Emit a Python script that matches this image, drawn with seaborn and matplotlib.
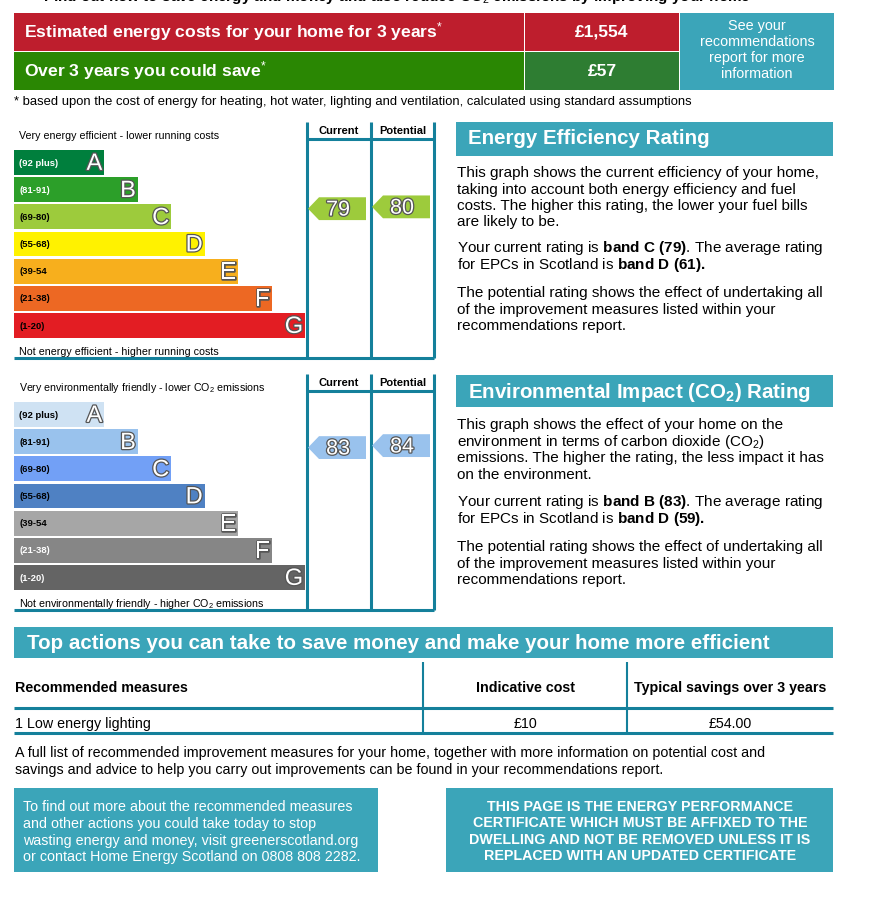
import matplotlib
matplotlib.use("Agg")
import matplotlib.pyplot as plt
import matplotlib.patheffects as pe
from matplotlib.patches import Rectangle, Polygon
from matplotlib.transforms import blended_transform_factory
import seaborn as sns
import pandas as pd

# ---------------- data ----------------
bands = ["A", "B", "C", "D", "E", "F", "G"]
band_ranges = ["(92 plus)", "(81-91)", "(69-80)", "(55-68)", "(39-54", "(21-38)", "(1-20)"]
band_lo = [92, 81, 69, 55, 39, 21, 1]
band_hi = [100, 91, 80, 68, 54, 38, 20]
band_len = [27, 37, 47, 57, 67, 77, 87]
ee_colors = ["#007f3d", "#2c9f29", "#9dcb3c", "#fff200", "#f7af1d", "#ed6823", "#e31d23"]
ei_colors = ["#cfe2f3", "#99c2ed", "#72a0f6", "#4f81c3", "#a6a6a6", "#868686", "#646464"]
ee_label_white = [True, True, False, False, False, False, False]
ei_label_white = [False, False, False, False, False, True, True]
ee_current, ee_potential = 79, 80
ei_current, ei_potential = 83, 84

cost_3yrs = "£1,554"
save_3yrs = "£57"
measures = ["1 Low energy lighting"]
measure_cost = ["£10"]
measure_saving = ["£54.00"]

# ---------------- setup ----------------
sns.set_theme(style="white")
plt.rcParams["font.family"] = ["Liberation Sans", "DejaVu Sans"]
plt.rcParams["mathtext.fontset"] = "custom"
plt.rcParams["mathtext.rm"] = "Liberation Sans"
plt.rcParams["mathtext.it"] = "Liberation Sans:italic"
plt.rcParams["mathtext.bf"] = "Liberation Sans:bold"

W, H = 878, 905
fig = plt.figure(figsize=(W / 100, H / 100), dpi=100)
fig.patch.set_facecolor("white")
ov = fig.add_axes([0, 0, 1, 1])
ov.set_xlim(0, W)
ov.set_ylim(H, 0)
ov.set_axis_off()

RED = "#be1e2d"
GREEN = "#2a8703"
GREEN2 = "#2e7d32"
TEAL = "#3ba5b9"
LINE = "#14809b"
NARROW = ["Liberation Sans Narrow", "Liberation Sans"]


def rect(x0, y0, x1, y1, color, z=1):
    ov.add_patch(Rectangle((x0, y0), x1 - x0, y1 - y0, facecolor=color, edgecolor="none", zorder=z))


def line(x0, y0, x1, y1, lw=2, color=LINE):
    ov.plot([x0, x1], [y0, y1], color=color, lw=lw, solid_capstyle="butt", zorder=3)


def txt(x, y, s, size, **kw):
    kw.setdefault("va", "center")
    kw.setdefault("ha", "left")
    kw.setdefault("color", "black")
    if kw["va"] == "center":
        y = y + 1
    ov.text(x, y, s, fontsize=size, zorder=5, **kw)


# ---------------- top (cut) heading ----------------
txt(30, 0.5, "•  Find out how to save energy and money and also reduce CO$_2$ emissions by improving your home",
    11, fontweight="bold", va="baseline")

# ---------------- cost boxes ----------------
rect(14, 13, 524, 51, RED)
rect(525, 13, 679, 51, RED)
rect(14, 52, 524, 90, GREEN)
rect(525, 52, 679, 90, GREEN2)
rect(680, 13, 834, 90, TEAL)
txt(24, 31, "Estimated energy costs for your home for 3 years$^{*}$", 12.6, fontweight="bold", color="white")
txt(24, 70, "Over 3 years you could save$^{*}$", 12.6, fontweight="bold", color="white")
txt(602, 31, cost_3yrs, 12.6, fontweight="bold", color="white", ha="center")
txt(602, 70, save_3yrs, 12.6, fontweight="bold", color="white", ha="center")
for yy, s in zip([25, 41, 57, 73], ["See your", "recommendations", "report for more", "information"]):
    txt(757, yy, s, 10.4, color="white", ha="center")
txt(14, 101, "* based upon the cost of energy for heating, hot water, lighting and ventilation, calculated using standard assumptions",
    9.4)


# ---------------- rating charts ----------------
def rating_chart(top_off, colors, white_flags, cur, pot, top_text, bottom_text):
    # frame
    y_top = 122 + top_off
    y_hdr = 139 + top_off
    y_bot = 358 + top_off
    for xx in (307, 371, 434):
        line(xx, y_top, xx, y_bot, lw=2.2)
    line(307, y_hdr, 434, y_hdr, lw=2.2)
    line(14, y_bot, 434, y_bot, lw=2.2)
    txt(339, 130 + top_off, "Current", 8, fontweight="bold", ha="center")
    txt(402.5, 130 + top_off, "Potential", 8, fontweight="bold", ha="center")
    txt(19, 135 + top_off, top_text, 7.7)
    txt(19, 351 + top_off, bottom_text, 7.7)

    # bands via seaborn
    ax_top = 148.9 + top_off
    ax_h = 190.2
    ax = fig.add_axes([14 / W, 1 - (ax_top + ax_h) / H, 420 / W, ax_h / H])
    df = pd.DataFrame({"band": bands, "len": band_len})
    sns.barplot(data=df, x="len", y="band", hue="band", palette=colors, orient="h",
                width=0.92, saturation=1, legend=False, ax=ax, linewidth=0)
    ax.set_xlim(0, 87 * 420 / 291)
    ax.set_ylim(6.5, -0.5)
    ax.set_axis_off()
    for i, (b, r, L) in enumerate(zip(bands, band_ranges, band_len)):
        ax.text(1.5, i + 0.02, r, fontsize=6.8, fontweight="bold", va="center", ha="left",
                color="white" if white_flags[i] else "black")
        ax.text(L - 0.6, i + 0.05, b, fontsize=17, va="center", ha="right", color="white",
                path_effects=[pe.withStroke(linewidth=1.8, foreground="#555555")])

    # arrows
    tr = blended_transform_factory(ov.transData, ax.transData)

    def arrow(score, x_tip, x_notch, x_end):
        idx = next(i for i in range(7) if band_lo[i] <= score <= band_hi[i])
        n = band_hi[idx] - band_lo[idx] + 1
        yc = idx + 0.4 - 0.8 * (score - band_lo[idx] + 0.5) / n
        h = 0.42
        poly = Polygon([(x_tip, yc), (x_notch, yc - h), (x_end, yc - h), (x_end, yc + h), (x_notch, yc + h)],
                       closed=True, facecolor=colors[idx], edgecolor="none", transform=tr, clip_on=False)
        ax.add_patch(poly)
        ax.text((x_tip + x_end) / 2 + 1, yc + 0.05, str(score), transform=tr, fontsize=15.5, color="white",
                ha="center", va="center", clip_on=False,
                path_effects=[pe.withStroke(linewidth=1.8, foreground="#555555")])

    arrow(cur, 308, 319, 366)
    arrow(pot, 372, 383, 430)


rating_chart(0, ee_colors, ee_label_white, ee_current, ee_potential,
             "Very energy efficient - lower running costs", "Not energy efficient - higher running costs")
rating_chart(252, ei_colors, ei_label_white, ei_current, ei_potential,
             "Very environmentally friendly - lower CO$_2$ emissions",
             "Not environmentally friendly - higher CO$_2$ emissions")

# ---------------- right text ----------------
rect(456, 122, 833, 156, TEAL)
txt(468, 138, "Energy Efficiency Rating", 14.8, fontweight="bold", color="white")
ee_lines = [
    (172, "This graph shows the current efficiency of your home,"),
    (189, "taking into account both energy efficiency and fuel"),
    (205, "costs. The higher this rating, the lower your fuel bills"),
    (221, "are likely to be."),
    (247, r"Your current rating is $\mathbf{band\ C\ (79)}$. The average rating"),
    (264, r"for EPCs in Scotland is $\mathbf{band\ D\ (61).}$"),
    (292, "The potential rating shows the effect of undertaking all"),
    (309, "of the improvement measures listed within your"),
    (325, "recommendations report."),
]
for yy, s in ee_lines:
    txt(457, yy, s, 11)

rect(456, 375, 833, 407, TEAL)
txt(468, 391, r"Environmental Impact (CO$_\mathbf{2}$) Rating", 14.8, fontweight="bold", color="white")
ei_lines = [
    (424, "This graph shows the effect of your home on the"),
    (441, "environment in terms of carbon dioxide (CO$_2$)"),
    (457, "emissions. The higher the rating, the less impact it has"),
    (474, "on the environment."),
    (501, r"Your current rating is $\mathbf{band\ B\ (83)}$. The average rating"),
    (518, r"for EPCs in Scotland is $\mathbf{band\ D\ (59).}$"),
    (546, "The potential rating shows the effect of undertaking all"),
    (563, "of the improvement measures listed within your"),
    (579, "recommendations report."),
]
for yy, s in ei_lines:
    txt(457, yy, s, 11)

# ---------------- top actions ----------------
rect(14, 627, 833, 658, TEAL)
txt(27, 642, "Top actions you can take to save money and make your home more efficient", 14.8,
    fontweight="bold", color="white", family=NARROW)
line(423, 662, 423, 733, lw=1.5)
line(627, 662, 627, 733, lw=1.5)
line(14, 708, 833, 708, lw=2.2)
line(14, 733, 833, 733, lw=2.2)
txt(15, 687, "Recommended measures", 10.3, fontweight="bold", family=NARROW)
txt(526, 687, "Indicative cost", 10.3, fontweight="bold", family=NARROW, ha="center")
txt(730, 687, "Typical savings over 3 years", 10.3, fontweight="bold", family=NARROW, ha="center")
for k, (m, c, s) in enumerate(zip(measures, measure_cost, measure_saving)):
    yy = 723 + 25 * k
    txt(15, yy, m, 10.3, family=NARROW)
    txt(526, yy, c, 10.3, family=NARROW, ha="center")
    txt(730, yy, s, 10.3, family=NARROW, ha="center")
txt(15, 752, "A full list of recommended improvement measures for your home, together with more information on potential cost and",
    10.3, family=NARROW)
txt(15, 769, "savings and advice to help you carry out improvements can be found in your recommendations report.",
    10.3, family=NARROW)

# ---------------- bottom boxes ----------------
rect(14, 788, 378, 872, TEAL)
rect(446, 788, 833, 872, TEAL)
left_lines = ["To find out more about the recommended measures",
              "and other actions you could take today to stop",
              "wasting energy and money, visit greenerscotland.org",
              "or contact Home Energy Scotland on 0808 808 2282."]
for yy, s in zip([806, 823, 840, 856], left_lines):
    txt(23, yy, s, 10.3, color="white", family=NARROW)
right_lines = ["THIS PAGE IS THE ENERGY PERFORMANCE",
               "CERTIFICATE WHICH MUST BE AFFIXED TO THE",
               "DWELLING AND NOT BE REMOVED UNLESS IT IS",
               "REPLACED WITH AN UPDATED CERTIFICATE"]
for yy, s in zip([806, 822, 839, 855], right_lines):
    txt(640, yy, s, 10.3, color="white", family=NARROW, fontweight="bold", ha="center")

fig.savefig("out.png", dpi=100, facecolor="white")
